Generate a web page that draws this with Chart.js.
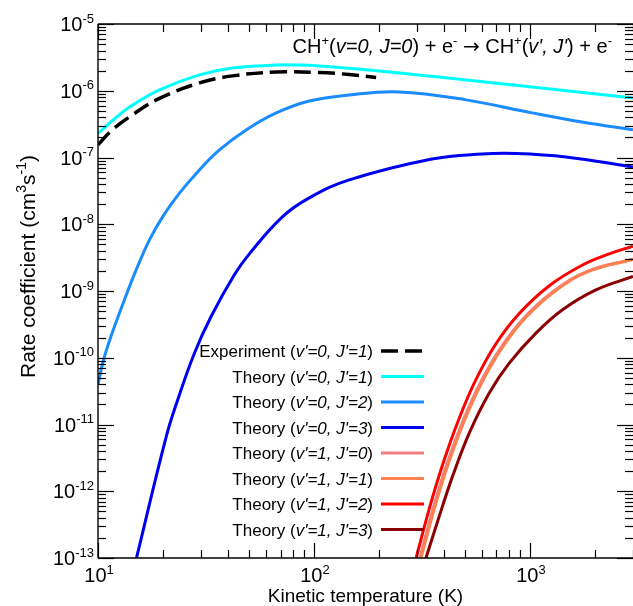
<!DOCTYPE html>
<html>
<head>
<meta charset="utf-8">
<title>CH+ rotational excitation rate coefficients</title>
<script src="https://cdn.jsdelivr.net/npm/chart.js@4.4.0/dist/chart.umd.min.js"></script>
<style>
  body { margin: 0; background: #fff; }
  canvas { display: block; }
</style>
</head>
<body>
<canvas id="myChart" width="633" height="606"></canvas>
<script>
// temperatures (K) and rate coefficients (cm^3 s^-1)
const tExp = [10, 11.5, 14, 19.25, 29.5, 41.9, 66.9, 105.8, 145.6, 194]
const kExp = [1.55e-7, 2.5e-7, 4.06e-7, 7.67e-7, 1.31e-6, 1.67e-6, 1.91e-6, 1.88e-6, 1.75e-6, 1.58e-6]

const t01 = [10, 11.9, 14, 19.25, 29.5, 41.9, 66.9, 85.5, 105.8, 200, 506, 1023, 3000]
const k01 = [2.3e-7, 3.78e-7, 5.71e-7, 1.03e-6, 1.73e-6, 2.19e-6, 2.43e-6, 2.43e-6, 2.35e-6, 1.98e-6, 1.45e-6, 1.14e-6, 7.8e-7]

const t02 = [10, 10.52, 11.51, 13.26, 15.02, 17.31, 19.94, 23.82, 29.48, 36.5, 48.5, 66.9, 95.1, 145.6, 248,
             506, 1023, 1741, 3000]
const k02 = [3.94e-11, 8.4e-11, 2.13e-10, 7.4e-10, 2.07e-9, 5.83e-9, 1.3e-8, 2.92e-8, 6.52e-8, 1.3e-7, 2.59e-7,
             4.66e-7, 7.03e-7, 8.65e-7, 9.6e-7, 7.3e-7, 4.66e-7, 3.4e-7, 2.6e-7]

const t03 = [15.07, 20.7, 23.4, 27.95, 33.4, 42.8, 50.2, 71.4, 95.1, 145.6, 352, 600, 862, 1469, 3000]
const k03 = [1e-13, 6.6e-12, 2.35e-11, 1.17e-10, 4.15e-10, 1.75e-9, 3.6e-9, 1.29e-8, 2.48e-8, 4.62e-8,
             9.5e-8, 1.13e-7, 1.15e-7, 1.02e-7, 7.2e-8]

const t10 = [309, 356, 410, 490, 594, 736, 944, 1300, 1855, 3000]
const k10 = [1e-13, 5.5e-13, 2.42e-12, 1.14e-11, 4.45e-11, 1.44e-10, 4.04e-10, 1.02e-9, 1.99e-9, 3.0e-9]

const t11 = [313, 361, 416, 497, 603, 747, 958, 1319, 1881, 3000]
const k11 = [1e-13, 5.5e-13, 2.42e-12, 1.14e-11, 4.45e-11, 1.44e-10, 4.04e-10, 1.02e-9, 1.99e-9, 2.97e-9]

const t12 = [297, 342, 394, 471, 562, 696, 892, 1229, 1751, 2328, 3000]
const k12 = [1e-13, 5.5e-13, 2.5e-12, 1.25e-11, 4.69e-11, 1.62e-10, 4.6e-10, 1.2e-9, 2.45e-9, 3.6e-9, 4.69e-9]

const t13 = [330, 380, 438, 524, 648, 802, 1066, 1415, 2021, 3000]
const k13 = [1e-13, 4.2e-13, 1.67e-12, 7.5e-12, 2.97e-11, 8.3e-11, 2.34e-10, 5.24e-10, 1.04e-9, 1.65e-9]

const xDecades = [1, 2, 3]
const yDecades = [-13, -12, -11, -10, -9, -8, -7, -6, -5]

const FONT = '"Liberation Sans", Arial, Helvetica, sans-serif'

function pts(t, k) {
  return t.map((v, i) => ({ x: v, y: k[i] }))
}

function ds(label, t, k, color, width, dash, order) {
  return {
    label: label,
    data: pts(t, k),
    borderColor: color,
    borderWidth: width,
    borderDash: dash || [],
    pointRadius: 0,
    fill: false,
    tension: 0.4,
    order: order
  }
}

const datasets = [
  ds("Experiment (v'=0, J'=1)", tExp, kExp, '#000000', 3.5, [17, 7], 0),
  ds("Theory (v'=0, J'=1)", t01, k01, '#00ffff', 3, null, 1),
  ds("Theory (v'=0, J'=2)", t02, k02, '#1a8cff', 3, null, 1),
  ds("Theory (v'=0, J'=3)", t03, k03, '#0000f0', 3, null, 1),
  ds("Theory (v'=1, J'=0)", t10, k10, '#f08080', 3, null, 1),
  ds("Theory (v'=1, J'=1)", t11, k11, '#ff8050', 3, null, 0),
  ds("Theory (v'=1, J'=2)", t12, k12, '#ff0000', 3, null, 1),
  ds("Theory (v'=1, J'=3)", t13, k13, '#8b0000', 3, null, 1)
]

// draw text made of pieces: n = normal, i = italic, s = superscript, a = arrow glyph
function rich(ctx, segs, x, y, size, align) {
  const fontOf = s => {
    if (s[1] === 'a') return size + 'px "DejaVu Sans", sans-serif'
    return (s[1] === 'i' ? 'italic ' : '') + (s[1] === 's' ? Math.round(size * 0.65) : size) + 'px ' + FONT
  }
  let w = 0
  const widths = segs.map(s => { ctx.font = fontOf(s); const m = ctx.measureText(s[0]).width; w += m; return m })
  let cx = align === 'right' ? x - w : align === 'center' ? x - w / 2 : x
  segs.forEach((s, i) => {
    ctx.font = fontOf(s)
    ctx.fillText(s[0], cx, s[1] === 's' ? y - size * 0.42 : y)
    cx += widths[i]
  })
}

const frame = {
  id: 'frame',
  afterDraw(chart) {
    const ctx = chart.ctx
    const a = chart.chartArea
    const xs = chart.scales.x
    const ys = chart.scales.y
    ctx.save()
    ctx.strokeStyle = '#000'
    ctx.fillStyle = '#000'
    ctx.textAlign = 'left'
    ctx.textBaseline = 'alphabetic'

    function seg(x1, y1, x2, y2) {
      ctx.beginPath(); ctx.moveTo(x1, y1); ctx.lineTo(x2, y2); ctx.stroke()
    }

    ctx.lineWidth = 1.4
    seg(a.right + 2, a.top, a.left, a.top)
    seg(a.left, a.top, a.left, a.bottom)
    seg(a.left, a.bottom, a.right + 2, a.bottom)

    // ticks, inward on all four sides
    ctx.lineWidth = 1.2
    for (let e = 1; e <= 3; e++) {
      for (let m = 1; m <= 9; m++) {
        const v = m * Math.pow(10, e)
        if (v > xs.max) break
        const px = Math.round(xs.getPixelForValue(v)) + 0.5
        const len = m === 1 ? 15 : 8
        seg(px, a.bottom, px, a.bottom - len)
        seg(px, a.top, px, a.top + len)
      }
    }
    for (let e = -13; e <= -5; e++) {
      for (let m = 1; m <= 9; m++) {
        if (e === -5 && m > 1) break
        const v = m * Math.pow(10, e)
        const py = Math.round(ys.getPixelForValue(v)) + 0.5
        const len = m === 1 ? 16 : 8
        seg(a.left, py, a.left + len, py)
        seg(a.right, py, a.right - len, py)
      }
    }

    // tick labels
    xDecades.forEach(e => {
      const px = xs.getPixelForValue(Math.pow(10, e))
      rich(ctx, [['10', 'n'], [String(e), 's']], px + 1, 582, 20, 'center')
    })
    yDecades.forEach(e => {
      const py = ys.getPixelForValue(Math.pow(10, e))
      rich(ctx, [['10', 'n'], [String(e), 's']], 94, py + 7, 20, 'right')
    })

    // axis titles
    rich(ctx, [['Kinetic temperature (K)', 'n']], (a.left + a.right) / 2, 602, 19, 'center')
    ctx.save()
    ctx.translate(35, 378)
    ctx.rotate(-Math.PI / 2)
    rich(ctx, [['Rate coefficient (cm', 'n'], ['3', 's'], ['s', 'n'], ['-1', 's'], [')', 'n']], 0, 0, 21, 'left')
    ctx.restore()

    // reaction label
    rich(ctx, [['CH', 'n'], ['+', 's'], ['(', 'n'], ['v=0, J=0', 'i'], [')', 'n'], [' + e', 'n'], ['-', 's'],
               [' ', 'n'], ['\u2192', 'a'], [' CH', 'n'], ['+', 's'], ['(', 'n'], ["v', J'", 'i'], [')', 'n'],
               [' + e', 'n'], ['-', 's']],
         612, 53, 20, 'right')

    // legend, line sample to the right of the text
    chart.data.datasets.forEach((d, i) => {
      const y = 351 + i * 25.5
      const m = d.label.match(/^(.*\()(.*)(\))$/)
      rich(ctx, [[m[1], 'n'], [m[2], 'i'], [m[3], 'n']], 373, y + 6, 17, 'right')
      ctx.save()
      ctx.strokeStyle = d.borderColor
      ctx.lineWidth = d.borderWidth
      ctx.setLineDash(d.borderDash)
      seg(381, y, 424, y)
      ctx.restore()
    })
    ctx.restore()
  }
}

new Chart(document.getElementById('myChart'), {
  type: 'line',
  data: { datasets: datasets },
  options: {
    responsive: false,
    animation: false,
    devicePixelRatio: 1,
    layout: { padding: { left: 98, top: 24, right: 0, bottom: 48 } },
    scales: {
      x: { type: 'logarithmic', min: 10, max: 3000, display: false },
      y: { type: 'logarithmic', min: 1e-13, max: 1e-5, display: false }
    },
    plugins: {
      legend: { display: false },
      tooltip: { enabled: false }
    }
  },
  plugins: [frame]
})
</script>
</body>
</html>
